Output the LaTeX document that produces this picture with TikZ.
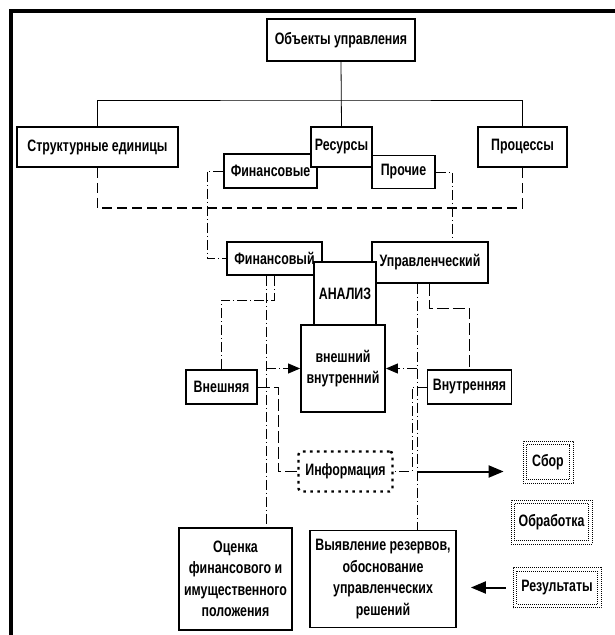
\documentclass[tikz,border=0pt]{standalone}
\usepackage{fontspec}
\setmainfont{Liberation Sans}[FakeStretch=0.75]
\usetikzlibrary{arrows.meta}

\begin{document}
\begin{tikzpicture}[x=1pt, y=-1pt, >={Triangle[length=12pt,width=10pt]},
        font=\fontsize{16.5}{21.5}\selectfont\bfseries,
        box/.style={draw, line width=1.8pt, fill=white, inner sep=1pt, align=center},
        dbox/.style={draw, line width=0.8pt, dash pattern=on 0.8pt off 1.2pt, inner sep=1pt},
        ibox/.style={draw, line width=2.4pt, dash pattern=on 2.6pt off 4.4pt, rounded corners=3pt, inner sep=1pt},
        tline/.style={line width=0.8pt},
        dline/.style={line width=1.5pt, dash pattern=on 10pt off 5pt},
        lline/.style={line width=1pt, dash pattern=on 12pt off 4pt},
        ddline/.style={line width=0.9pt, dash pattern=on 10pt off 3pt on 1pt off 3pt},
        bigarrow/.style={line width=2pt, -{Triangle[length=15pt,width=12pt]}}]
        \useasboundingbox (0,0) rectangle (614,635);
        % ---- рамка ----
        \draw[line width=4pt] (11,640) -- (11,11) -- (620,11);
        % ---- объекты управления ----
        \node[box, minimum width=148pt, minimum height=42pt] (obj) at (341,40) {Объекты управления};
        \node[box, minimum width=161pt, minimum height=40pt] (str) at (97.5,147) {Структурные единицы};
        \node[box, minimum width=89pt, minimum height=40pt] (proc) at (522.5,147) {Процессы};
        \node[box, minimum width=93pt, minimum height=34pt] (finres) at (270.5,171) {Финансовые};
        \node[box, minimum width=63pt, minimum height=33pt] (other) at (403.5,172) {Прочие};
        \node[box, minimum width=61pt, minimum height=40pt] (res) at (341.5,147) {Ресурсы};
        % ---- анализ ----
        \node[box, minimum width=95pt, minimum height=33pt] (finan) at (274.5,258.5) {Финансовый};
        \node[box, minimum width=116pt, minimum height=41pt] (manag) at (430,262.5) {Управленческий};
        \node[box, minimum width=62pt, minimum height=63pt] (anal) at (345,293.5) {АНАЛИЗ};
        \node[box, minimum width=84pt, minimum height=87pt] (inout) at (343,368.5) {внешний\\внутренний};
        \node[box, minimum width=71pt, minimum height=34pt] (ext) at (221.5,387) {Внешняя};
        \node[box, minimum width=84pt, minimum height=34pt] (int) at (469.5,387) {Внутренняя};
        \node[ibox, minimum width=94pt, minimum height=40pt] (info) at (345.5,471.5) {Информация};
        % ---- результаты анализа ----
        \node[box, minimum width=113pt, minimum height=102pt] (assess) at (235.5,579) {Оценка\\финансового и\\имущественного\\положения};
        \node[box, minimum width=146pt, minimum height=97pt] (reserv) at (383,579) {Выявление резервов,\\обоснование\\управленческих\\решений};
        \node[dbox, minimum width=50pt, minimum height=42pt] (collect) at (548,462) {Сбор};
        \node[dbox, minimum width=81pt, minimum height=44pt] (process) at (551.5,522) {Обработка};
        \node[dbox, minimum width=88pt, minimum height=40pt] (result) at (557,587.5) {Результаты};
        % ---- внутренние рамки ----
        \foreach \n in {collect, process, result}
          \draw[line width=0.8pt, dash pattern=on 0.8pt off 1.2pt]
            ([shift={(4pt,-4pt)}]\n.north west) rectangle ([shift={(-4pt,4pt)}]\n.south east);
        % ---- связи верхнего уровня ----
        \coordinate (hub) at (341,100);
        \coordinate (dhub) at (341,208);
        \draw[tline] (obj.south) -- (res.north);
        \draw[tline] (str.north) |- (hub) -| (proc.north);
        \draw[dline] (str.south) |- (dhub) -| (proc.south);
        \draw[ddline] (finres.west) -| (207,0 |- finan.west) -- (finan.west);
        \draw[ddline] (other.east) -| (manag.north -| 452,0);
        % ---- левая ветвь ----
        \draw[ddline] (finan.south -| 266,0) -- (assess.north -| 266,0);
        \draw[ddline] (finan.south -| 274,0) -- (274,300) -| (ext.north);
        \draw[ddline, ->] (inout.west -| 266,0) -- (inout.west);
        \draw[lline] (ext.east) -| (info.west -| 278,0) -- (info.west);
        % ---- правая ветвь ----
        \draw[ddline] (manag.south -| 417,0) -- (reserv.north -| 417,0);
        \draw[lline] (manag.south -| 429,0) -- (429,308) -| (int.north);
        \draw[ddline, ->] (inout.east -| 417,0) -- (inout.east);
        \draw[ddline] (int.west) -| (info.east -| 412,0) -- (info.east);
        % ---- стрелки ----
        \draw[bigarrow, shorten >=19pt] (info.east -| 417,0) -- (collect.west |- info.east);
        \draw[bigarrow, shorten <=7pt, shorten >=14pt] (result.west) -- (reserv.east |- result.west);
\end{tikzpicture}
\end{document}
